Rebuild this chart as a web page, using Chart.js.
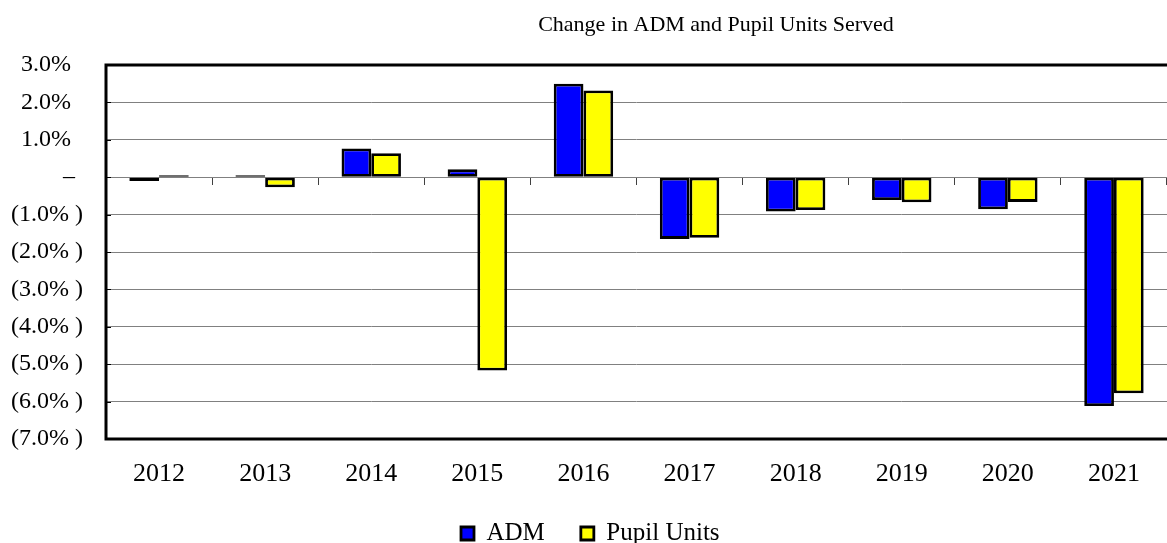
<!DOCTYPE html>
<html><head><meta charset="utf-8">
<script src="https://cdn.jsdelivr.net/npm/chart.js@4.4.1/dist/chart.umd.min.js"></script>
<style>html,body{margin:0;padding:0;overflow:hidden;background:#fff;} #wrap{position:relative;width:1167px;height:543px;}</style>
</head><body><div id="wrap"><canvas id="c"></canvas></div>
<script>
const years = ['2012','2013','2014','2015','2016','2017','2018','2019','2020','2021'];
const admChange = [-0.10, 0.05, 0.77, 0.21, 2.50, -1.65, -0.92, -0.61, -0.86, -6.12];
const pupilUnitsChange = [0.05, -0.27, 0.64, -5.17, 2.32, -1.62, -0.88, -0.67, -0.66, -5.78];
const yTickValues = [3, 2, 1, 0, -1, -2, -3, -4, -5, -6, -7];
const yTickLabels = ['3.0%\u2002', '2.0%\u2002', '1.0%\u2002', '\u2013\u2004', '(1.0% )', '(2.0% )', '(3.0% )', '(4.0% )', '(5.0% )', '(6.0% )', '(7.0% )'];
const titleText = 'Change in ADM and Pupil Units Served';

const serif = 'Liberation Serif';

const framePlugin = {
  id: 'frame',
  afterDatasetsDraw(chart) {
    const {ctx, chartArea: a, scales: {y}} = chart;
    ctx.save();
    ctx.strokeStyle = '#000';
    ctx.lineWidth = 3;
    ctx.beginPath();
    ctx.moveTo(a.right + 4, a.top);
    ctx.lineTo(a.left, a.top);
    ctx.lineTo(a.left, a.bottom);
    ctx.lineTo(a.right + 4, a.bottom);
    ctx.stroke();
    ctx.lineWidth = 1;
    ctx.beginPath();
    y.ticks.forEach(t => {
      const py = Math.round(y.getPixelForValue(t.value)) + 0.5;
      ctx.moveTo(a.left, py);
      ctx.lineTo(a.left + 5, py);
    });
    ctx.stroke();
    ctx.restore();
  }
};

const shiftPlugin = {
  id: 'shift',
  afterLayout(chart) {
    const t = chart.titleBlock;
    if (t) { t.left += 128; t.right += 128; }
    const l = chart.legend;
    if (l) { l.left += 425; l.right += 425; }
  }
};

new Chart(document.getElementById('c'), {
  type: 'bar',
  data: {
    labels: years,
    datasets: [
      {label: 'ADM', data: admChange, backgroundColor: '#0000FF', borderColor: '#000', borderWidth: 2.8, borderSkipped: false},
      {label: 'Pupil Units', data: pupilUnitsChange, backgroundColor: '#FFFF00', borderColor: '#000', borderWidth: 2.8, borderSkipped: false}
    ]
  },
  options: {
    responsive: true,
    maintainAspectRatio: false,
    animation: false,
    layout: {padding: {left: 0, right: -9, top: 0, bottom: -13}},
    datasets: {bar: {barPercentage: 1, categoryPercentage: 0.56}},
    plugins: {
      title: {display: true, text: titleText, color: '#000', font: {family: serif, size: 22, weight: 'normal', lineHeight: 1.2}, padding: {top: 12, bottom: 26.6}},
      legend: {position: 'bottom', align: 'start', labels: {boxWidth: 13, boxHeight: 13, padding: 36, color: '#000', font: {family: serif, size: 25}}},
      tooltip: {enabled: false}
    },
    scales: {
      x: {
        type: 'category', position: 'bottom', offset: true,
        grid: {display: false, drawTicks: false}, border: {display: false},
        ticks: {color: '#000', padding: 20, maxRotation: 0, autoSkip: false, font: {family: serif, size: 26}},
        afterFit(s) { s.height = 46; }
      },
      x2: {
        type: 'category', position: {y: 0}, offset: true,
        grid: {offset: true, drawOnChartArea: false, drawTicks: true, tickLength: 7, color: '#404040', lineWidth: 1},
        border: {display: true, color: '#808080', width: 1},
        ticks: {display: false}
      },
      y: {
        min: -7, max: 3,
        ticks: {stepSize: 1, padding: 23, color: '#000', font: {family: serif, size: 24},
          callback: (v) => { const i = yTickValues.indexOf(Math.round(v)); return i >= 0 ? yTickLabels[i] : ''; }},
        grid: {color: '#808080', lineWidth: 1, drawTicks: false},
        border: {display: false},
        afterFit(s) { s.width = 106; }
      }
    }
  },
  plugins: [framePlugin, shiftPlugin]
});
</script></body></html>
